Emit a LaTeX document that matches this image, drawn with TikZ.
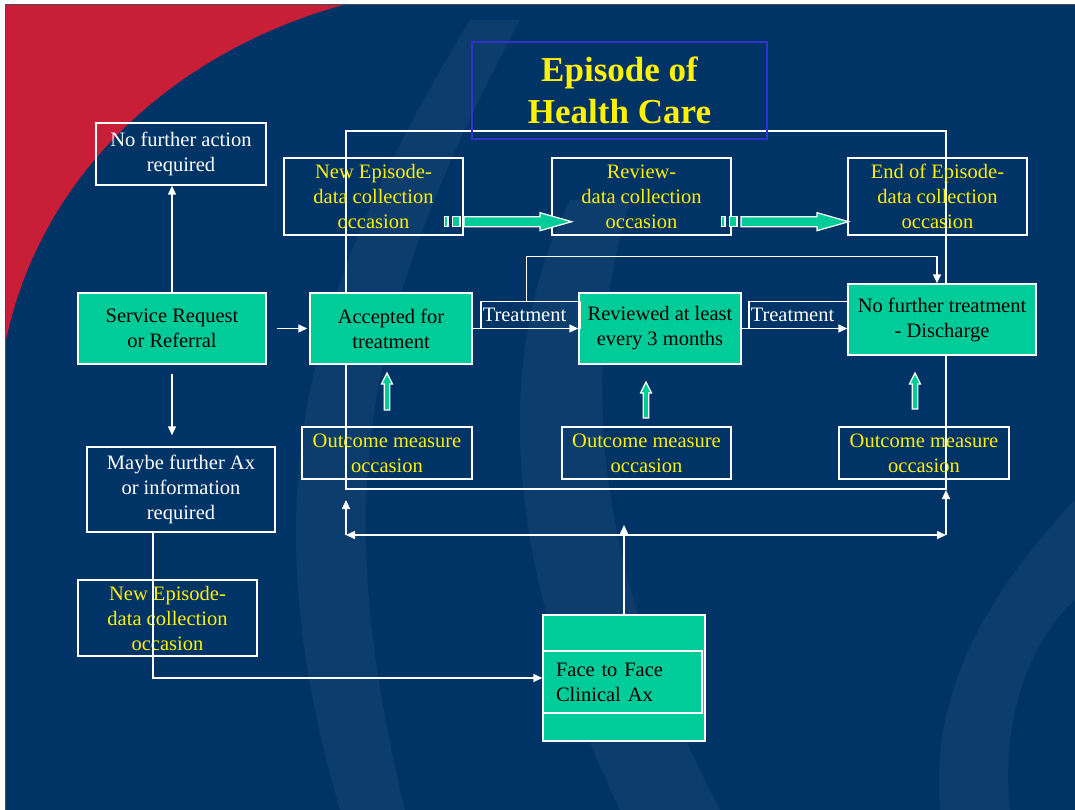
\documentclass[tikz,border=0pt]{standalone}
\usepackage{fontspec}
\setmainfont{Liberation Serif}
\usetikzlibrary{arrows.meta, calc, positioning}
\definecolor{slidenavy}{RGB}{0, 51, 102}
\definecolor{slidered}{RGB}{200, 30, 55}
\definecolor{boxgreen}{RGB}{0, 204, 153}
\definecolor{titleblue}{RGB}{51, 51, 204}

\begin{document}
\begin{tikzpicture}[x=1pt, y=-1pt, >={Triangle[length=9pt,width=8pt]},
	wline/.style={draw=white, line width=1.5pt},
	txt/.style={font=\fontsize{20.5}{25}\selectfont, align=center, inner sep=0pt},
	greenbox/.style={txt, wline, fill=boxgreen, text=black},
	whitebox/.style={txt, wline, text=white},
	yellowbox/.style={txt, wline, text=yellow},
	treatlabel/.style={wline, text=white, font=\fontsize{20.5}{25}\selectfont, anchor=south west, inner xsep=2pt, inner ysep=0pt, text width=95pt, minimum height=27pt, align=left},
	blockarrow/.style={fill=boxgreen, draw=white, line width=1.2pt}]

		% slide background
		\useasboundingbox (0,0) rectangle (1075,810);
		\fill[white] (0,0) rectangle (1075,810);
		\fill[slidenavy] (5,5) rectangle (1075,810);
		\fill[slidered] (5,5) -- (343,5) .. controls (180,50) and (40,170) .. (5,345) -- cycle;
		\fill[white, opacity=0.05] (470,20) .. controls (300,300) and (250,500) .. (340,810) -- (405,810) .. controls (330,500) and (360,320) .. (520,20) -- cycle;
		\fill[white, opacity=0.05] (570,200) .. controls (480,380) and (520,600) .. (620,810) -- (720,810) .. controls (610,600) and (570,400) .. (630,200) -- cycle;
		\fill[white, opacity=0.05] (1075,500) .. controls (980,600) and (930,700) .. (940,810) -- (1010,810) .. controls (1000,720) and (1030,640) .. (1075,600) -- cycle;
		\draw[black!70, line width=1pt] (5,810) -- (5,5) -- (1075,5);

		% episode frame
		\draw[wline] (346,131) rectangle (946,489);
		\node[txt, draw=titleblue, line width=1.5pt, text=yellow, font=\bfseries\fontsize{35}{42}\selectfont, minimum width=295pt, minimum height=97pt] (title) at (619.5,90.5) {Episode of\\Health Care};

		% boxes
		\node[whitebox, minimum width=170pt, minimum height=62pt] (nfa) at (181,154) {No further action\\required};
		\node[greenbox, minimum width=188pt, minimum height=71pt] (srv) at (172,328.5) {Service Request\\or Referral};
		\node[whitebox, minimum width=188pt, minimum height=85pt] (maybe) at (181,489.5) {Maybe further Ax\\or information\\required};
		\node[yellowbox, minimum width=179pt, minimum height=76pt] (newep2) at (167.5,618) {New Episode-\\data collection\\occasion};

		\node[greenbox, minimum width=162pt, minimum height=71pt] (acc) at (391,328.5) {Accepted for\\treatment};
		\node[greenbox, minimum width=162pt, minimum height=71pt] (rev) at (660,328.5) {Reviewed at least\\every 3 months};
		\node[greenbox, minimum width=188pt, minimum height=71pt] (dis) at (942,319.5) {No further treatment\\- Discharge};

		\node[yellowbox, minimum width=179pt, minimum height=77pt] (newep) at (373.5,196.5) {New Episode-\\data collection\\occasion};
		\node[yellowbox, minimum width=179pt, minimum height=77pt] (review) at (641.5,196.5) {Review-\\data collection\\occasion};
		\node[yellowbox, minimum width=179pt, minimum height=77pt] (endep) at (937.5,196.5) {End of Episode-\\data collection\\occasion};

		\node[yellowbox, minimum width=170pt, minimum height=52pt] (out1) at (387,453) {Outcome measure\\occasion};
		\node[yellowbox, minimum width=169pt, minimum height=52pt] (out2) at (646.5,453) {Outcome measure\\occasion};
		\node[yellowbox, minimum width=170pt, minimum height=52pt] (out3) at (924,453) {Outcome measure\\occasion};

		\node[greenbox, minimum width=162pt, minimum height=126pt] (face) at (624,678) {};
		\node[wline, text=black, font=\fontsize{20.5}{25}\selectfont, inner xsep=13pt, inner ysep=0pt, text width=133pt, align=left, minimum height=62pt] (facetxt) at (622.5,682) {Face to Face\\Clinical Ax};

		\node[treatlabel] (lab1) at (480,329) {Treatment};
		\node[treatlabel] (lab2) at (748,329) {Treatment};

		% connectors
		\draw[wline,->] (srv.north) -- (srv.north |- nfa.south);
		\draw[wline,->,shorten <=10pt,shorten >=2pt] (srv.east) -- (acc.west);
		\draw[wline,->,shorten <=9pt,shorten >=11pt] (srv.south) -- (srv.south |- maybe.north);
		\draw[wline,->] ([xshift=-28pt]maybe.south) |- (face.west);
		\draw[wline,->] (acc) -- (rev);
		\draw[wline,->] (rev.east) -- (rev.east -| dis.west);
		\draw[wline,->] ([xshift=-4pt]lab1.north) -- ++(0,-44) -| ([xshift=-5pt]dis.north);

		\coordinate (bl) at (346,535);
		\coordinate (br) at (946,535);
		\draw[wline,<->] (bl) -- (br);
		\draw[wline,->] (bl) -- ++(0,-35);
		\draw[wline,->] (br) -- ++(0,-45);
		\draw[wline,->] (face.north) -- ([yshift=10pt]face.north |- bl);

		% block arrows
		\foreach \sx in {0,277} {
			\begin{scope}[shift={(\sx,0)}]
				\draw[blockarrow] (444.7,216.7) rectangle (448,226.7);
				\draw[blockarrow] (452.7,216.7) rectangle (460,226.7);
				\draw[blockarrow] (464,216.7) -- (540,216.7) -- (540,212.7) -- (571.7,221.7) -- (540,230.7) -- (540,226.7) -- (464,226.7) -- cycle;
			\end{scope}
		}
		\foreach \ux/\ut/\ub in {387/373/410, 646/382/418, 915/373/409}
			\draw[blockarrow] ({\ux-2.7},\ub) -- ({\ux-2.7},{\ut+11}) -- ({\ux-5.5},{\ut+11}) -- (\ux,\ut) -- ({\ux+5.5},{\ut+11}) -- ({\ux+2.7},{\ut+11}) -- ({\ux+2.7},\ub) -- cycle;
\end{tikzpicture}
\end{document}
